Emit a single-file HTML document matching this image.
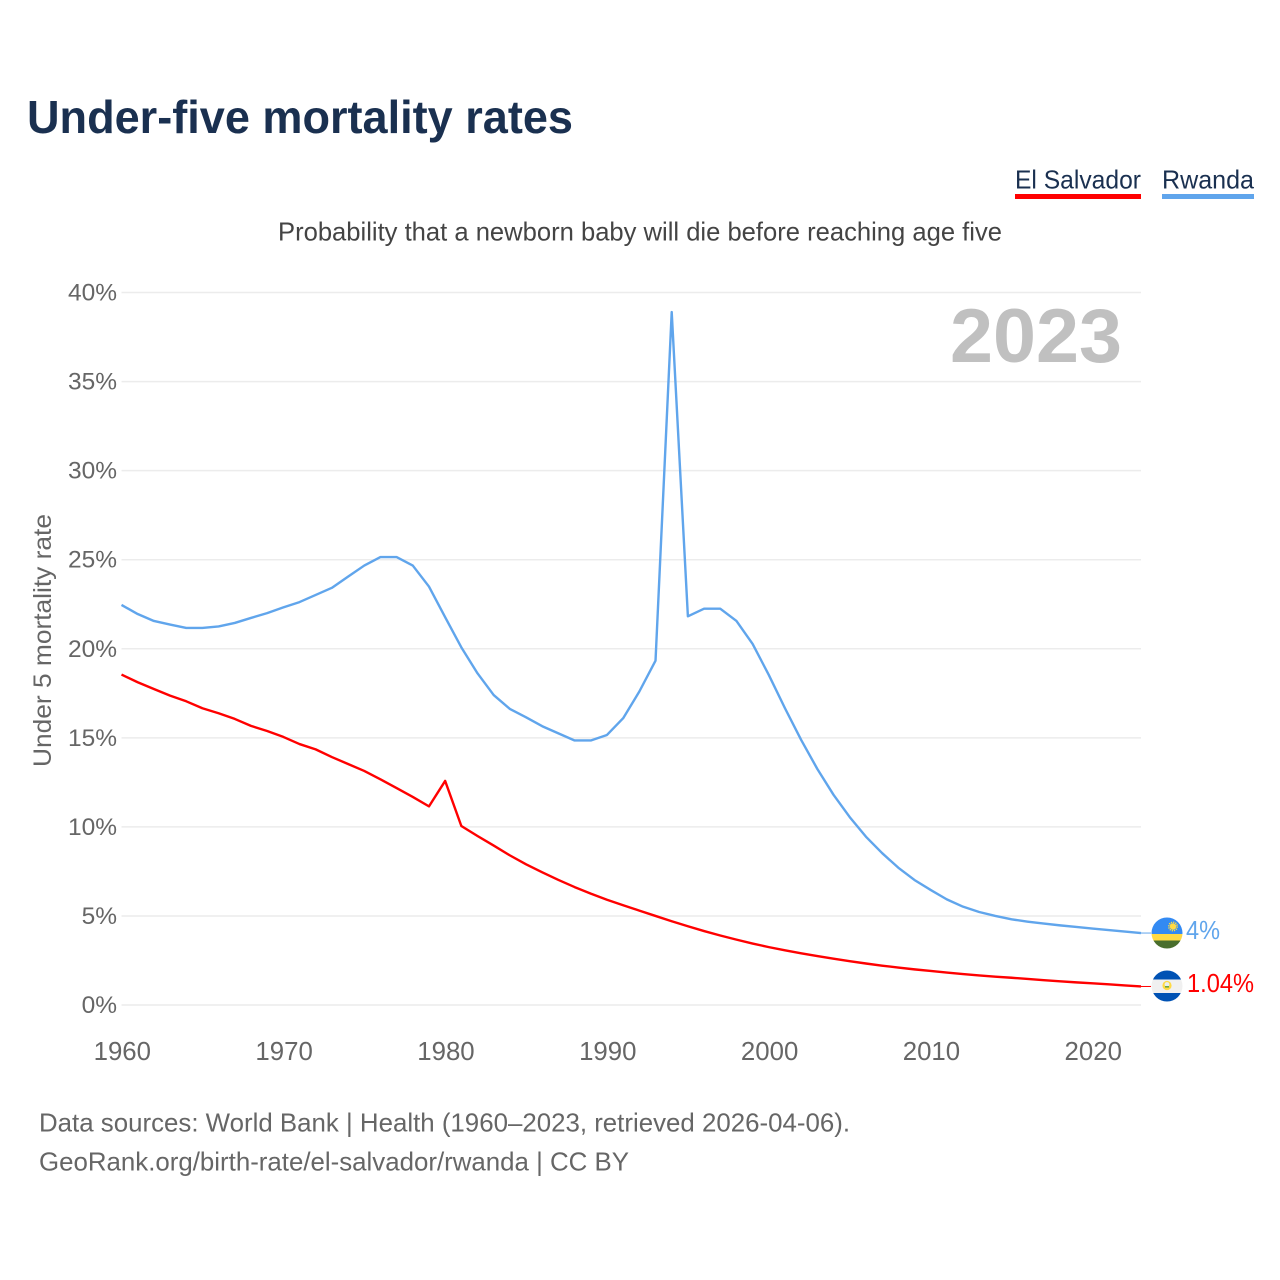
<!DOCTYPE html>
<html lang="en">
<head>
<meta charset="utf-8">
<title>Under-five mortality rates</title>
<style>
html,body{margin:0;padding:0;background:#fff}
svg{display:block}
text{font-family:"Liberation Sans",sans-serif}
</style>
</head>
<body>
<svg id="chart" width="1280" height="1280" viewBox="0 0 1280 1280" xmlns="http://www.w3.org/2000/svg">
  <text x="27" y="133" font-size="46" font-weight="700" fill="#1a3050" textLength="546" lengthAdjust="spacingAndGlyphs">Under-five mortality rates</text>

  <g>
    <g>
      <text x="1015" y="188.5" font-size="26" fill="#1a3050" textLength="126" lengthAdjust="spacingAndGlyphs">El Salvador</text>
      <rect x="1015" y="194" width="126" height="5" fill="#ff0000"/>
    </g>
    <g>
      <text x="1162" y="188.5" font-size="26" fill="#1a3050" textLength="92" lengthAdjust="spacingAndGlyphs">Rwanda</text>
      <rect x="1162" y="194" width="92" height="5" fill="#60a5ec"/>
    </g>
  </g>

  <text x="278" y="240.5" font-size="26" fill="#444444" textLength="724" lengthAdjust="spacingAndGlyphs">Probability that a newborn baby will die before reaching age five</text>

  <g id="grid"></g>
  <g id="yticks"></g>
  <g id="xticks"></g>

  <text x="950" y="362" font-size="76" font-weight="700" fill="#c0c0c0" textLength="172" lengthAdjust="spacingAndGlyphs">2023</text>

  <text transform="translate(51,767) rotate(-90)" x="0" y="0" font-size="25" fill="#666666" textLength="253" lengthAdjust="spacingAndGlyphs">Under 5 mortality rate</text>

  <g id="series"></g>

  <g>
    <clipPath id="clip-rw"><circle cx="1167" cy="933" r="15.5"/></clipPath>
    <g clip-path="url(#clip-rw)">
      <rect x="1151" y="917" width="32" height="17" fill="#338af3"/>
      <rect x="1151" y="934" width="32" height="6.5" fill="#ffda44"/>
      <rect x="1151" y="940.5" width="32" height="9" fill="#496e2d"/>
      <circle cx="1173" cy="926.5" r="3.2" fill="#ffda44"/>
      <circle cx="1173" cy="926.5" r="4.2" fill="none" stroke="#ffda44" stroke-width="1.6" stroke-dasharray="1.2 1"/>
    </g>
  </g>
  <g>
    <clipPath id="clip-sv"><circle cx="1167" cy="986" r="15.5"/></clipPath>
    <g clip-path="url(#clip-sv)">
      <rect x="1151" y="970" width="32" height="9.5" fill="#0052b4"/>
      <rect x="1151" y="979.5" width="32" height="13.5" fill="#f0f0f0"/>
      <rect x="1151" y="993" width="32" height="9" fill="#0052b4"/>
      <circle cx="1167" cy="985.5" r="4.6" fill="#ffda44"/>
      <circle cx="1167" cy="984.5" r="2.4" fill="#e8eef0"/>
      <rect x="1165" y="986" width="4" height="1.6" fill="#6da544"/>
    </g>
  </g>

  <text id="label-rw" x="1186" y="939" font-size="25.5" fill="#60a5ec" textLength="34" lengthAdjust="spacingAndGlyphs">4%</text>
  <text id="label-sv" x="1187" y="992" font-size="25.5" fill="#ff0000" textLength="67" lengthAdjust="spacingAndGlyphs">1.04%</text>

  <text x="39" y="1131.5" font-size="26" fill="#666666" textLength="811" lengthAdjust="spacingAndGlyphs">Data sources: World Bank | Health (1960–2023, retrieved 2026-04-06).</text>
  <text x="39" y="1170.5" font-size="26" fill="#666666" textLength="590" lengthAdjust="spacingAndGlyphs">GeoRank.org/birth-rate/el-salvador/rwanda | CC BY</text>
</svg>
<script>
const yearStart = 1960;
const yearEnd = 2023;
const yTickValues = [0, 5, 10, 15, 20, 25, 30, 35, 40];
const xTickValues = [1960, 1970, 1980, 1990, 2000, 2010, 2020];
const rwandaValues = [22.46,21.95,21.56,21.36,21.17,21.17,21.25,21.45,21.73,22.0,22.32,22.62,23.02,23.42,24.05,24.67,25.15,25.15,24.67,23.49,21.77,20.08,18.62,17.4,16.62,16.15,15.65,15.25,14.85,14.85,15.16,16.1,17.6,19.33,38.9,21.82,22.25,22.25,21.56,20.27,18.53,16.66,14.88,13.25,11.8,10.55,9.45,8.53,7.71,7.02,6.46,5.93,5.52,5.22,5.0,4.81,4.68,4.57,4.47,4.38,4.29,4.21,4.12,4.04];
const elSalvadorValues = [18.55,18.12,17.74,17.37,17.05,16.66,16.38,16.06,15.67,15.38,15.05,14.65,14.35,13.92,13.53,13.14,12.67,12.18,11.68,11.15,12.58,10.05,9.49,8.95,8.4,7.9,7.45,7.02,6.62,6.25,5.91,5.6,5.3,5.0,4.7,4.42,4.15,3.9,3.67,3.45,3.25,3.07,2.9,2.75,2.6,2.46,2.33,2.21,2.1,2.0,1.91,1.82,1.74,1.66,1.59,1.53,1.46,1.39,1.33,1.27,1.22,1.16,1.1,1.04];

const NS = 'http://www.w3.org/2000/svg';
const plotLeft = 121.5, plotRight = 1141, plotBottom = 1005, plotTop = 292.5;
function xScale(year) { return plotLeft + (year - yearStart) * (plotRight - plotLeft) / (yearEnd - yearStart); }
function yScale(v) { return plotBottom - v * (plotBottom - plotTop) / 40; }

const grid = document.getElementById('grid');
const yticks = document.getElementById('yticks');
const xticks = document.getElementById('xticks');
const series = document.getElementById('series');

yTickValues.forEach(function (v) {
  const line = document.createElementNS(NS, 'line');
  
  
  line.setAttribute('x1', plotLeft);
  line.setAttribute('x2', plotRight);
  line.setAttribute('y1', yScale(v));
  line.setAttribute('y2', yScale(v));
  line.setAttribute('stroke', '#ececec');
  line.setAttribute('stroke-width', '1.5');
  grid.appendChild(line);

  const t = document.createElementNS(NS, 'text');
  
  
  t.setAttribute('x', 117);
  t.setAttribute('y', yScale(v) + 8);
  t.setAttribute('text-anchor', 'end');
  t.setAttribute('font-size', '24.5');
  t.setAttribute('fill', '#666666');
  t.textContent = v + '%';
  yticks.appendChild(t);
});

xTickValues.forEach(function (yr) {
  const t = document.createElementNS(NS, 'text');
  
  
  t.setAttribute('x', xScale(yr) + 0.8);
  t.setAttribute('y', 1060);
  t.setAttribute('text-anchor', 'middle');
  t.setAttribute('font-size', '25.8');
  t.setAttribute('fill', '#666666');
  t.textContent = yr;
  xticks.appendChild(t);
});

function drawSeries(values, color, name) {
  const pts = values.map(function (v, i) { return xScale(yearStart + i).toFixed(2) + ',' + yScale(v).toFixed(2); });
  const p = document.createElementNS(NS, 'polyline');
  
  
  p.setAttribute('points', pts.join(' '));
  p.setAttribute('fill', 'none');
  p.setAttribute('stroke', color);
  p.setAttribute('stroke-width', '2.4');
  p.setAttribute('stroke-linejoin', 'round');
  series.appendChild(p);

  const last = values[values.length - 1];
  const c = document.createElementNS(NS, 'line');
  
  
  c.setAttribute('x1', plotRight);
  c.setAttribute('x2', plotRight + 10);
  c.setAttribute('y1', yScale(last));
  c.setAttribute('y2', yScale(last));
  c.setAttribute('stroke', color);
  c.setAttribute('stroke-width', '1');
  series.appendChild(c);
}
drawSeries(rwandaValues, '#60a5ec', 'line-rwanda');
drawSeries(elSalvadorValues, '#ff0000', 'line-el-salvador');
</script>
</body>
</html>
